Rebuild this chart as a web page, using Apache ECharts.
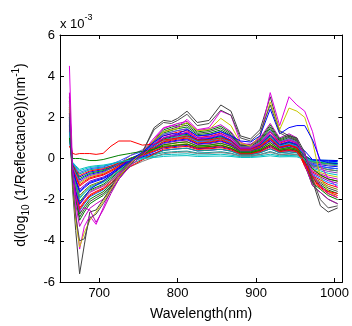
<!DOCTYPE html>
<html>
<head>
<meta charset="utf-8">
<script src="https://cdn.jsdelivr.net/npm/echarts@6/dist/echarts.min.js"></script>
<style>
  html, body { margin: 0; padding: 0; background: #fff; }
  #chart { width: 352px; height: 326px; }
</style>
</head>
<body>
<div id="chart"></div>
<script>
// wavelengths (nm) sampled along the spectra
const wavelengths = [662, 666, 670, 675, 681, 688, 696, 705, 715, 725, 740, 755, 770, 782, 792, 800, 812,
  825, 840, 855, 868, 880, 893, 905, 918, 930, 942, 952, 962, 972, 982, 992, 1004]

// first derivative spectra, units of 1e-3 nm^-1
const spectra = [
  [1.2, -0.2, -0.4, -0.6, -0.52, -0.44, -0.4, -0.36, -0.29, -0.19, -0.07, 0.02, 0.11, 0.18, 0.2, 0.21, 0.23, 0.17, 0.18, 0.21, 0.16, 0.09, 0.09, 0.13, 0.21, 0.13, 0.15, 0.13, 0.04, -0.06, -0.08, -0.09, -0.1],
  [0.9, -0.25, -0.5, -0.75, -0.65, -0.55, -0.5, -0.45, -0.36, -0.24, -0.07, 0.05, 0.18, 0.29, 0.32, 0.34, 0.36, 0.27, 0.29, 0.33, 0.26, 0.14, 0.14, 0.2, 0.34, 0.2, 0.24, 0.2, 0.0, -0.18, -0.23, -0.27, -0.3],
  [1.8, -0.3, -0.6, -0.9, -0.78, -0.66, -0.6, -0.54, -0.42, -0.27, -0.06, 0.08, 0.25, 0.4, 0.44, 0.47, 0.5, 0.37, 0.4, 0.45, 0.36, 0.19, 0.19, 0.28, 0.47, 0.28, 0.33, 0.28, -0.04, -0.3, -0.38, -0.45, -0.5],
  [2.0, -0.35, -0.7, -1.05, -0.91, -0.77, -0.7, -0.63, -0.49, -0.32, -0.05, 0.12, 0.33, 0.52, 0.56, 0.6, 0.63, 0.48, 0.5, 0.57, 0.46, 0.25, 0.25, 0.35, 0.6, 0.35, 0.42, 0.35, 0.15, -0.09, -0.11, -0.14, -0.15],
  [1.5, -0.4, -0.8, -1.2, -1.04, -0.88, -0.8, -0.72, -0.56, -0.36, -0.06, 0.14, 0.38, 0.58, 0.64, 0.68, 0.72, 0.54, 0.58, 0.66, 0.52, 0.28, 0.28, 0.4, 0.68, 0.4, 0.48, 0.4, -0.12, -0.54, -0.68, -0.81, -0.9],
  [2.2, -0.45, -0.9, -1.35, -1.17, -0.99, -0.9, -0.81, -0.63, -0.41, -0.07, 0.16, 0.43, 0.66, 0.72, 0.77, 0.81, 0.61, 0.65, 0.74, 0.59, 0.32, 0.32, 0.45, 0.77, 0.45, 0.54, 0.45, 0.03, -0.36, -0.45, -0.54, -0.6],
  [1.3, -0.5, -1.0, -1.5, -1.3, -1.1, -1.0, -0.9, -0.7, -0.45, -0.08, 0.17, 0.47, 0.73, 0.8, 0.85, 0.9, 0.68, 0.72, 0.82, 0.65, 0.35, 0.35, 0.5, 0.85, 0.5, 0.6, 0.5, -0.18, -0.72, -0.9, -1.08, -1.2],
  [2.4, -0.55, -1.1, -1.65, -1.43, -1.21, -1.1, -0.99, -0.78, -0.5, -0.1, 0.17, 0.49, 0.77, 0.84, 0.89, 0.95, 0.71, 0.76, 0.86, 0.68, 0.37, 0.37, 0.53, 0.89, 0.53, 0.63, 0.53, 0.16, -0.24, -0.3, -0.36, -0.4],
  [1.7, -0.6, -1.2, -1.8, -1.56, -1.32, -1.2, -1.08, -0.84, -0.54, -0.11, 0.18, 0.53, 0.84, 0.92, 0.98, 1.04, 0.78, 0.83, 0.94, 0.75, 0.4, 0.4, 0.58, 0.98, 0.58, 0.69, 0.58, -0.26, -0.9, -1.13, -1.35, -1.5],
  [2.6, -0.65, -1.3, -1.95, -1.69, -1.43, -1.3, -1.17, -0.92, -0.59, -0.12, 0.21, 0.59, 0.91, 1.0, 1.06, 1.13, 0.85, 0.9, 1.03, 0.81, 0.44, 0.44, 0.63, 1.06, 0.63, 0.75, 0.63, 0.06, -0.48, -0.6, -0.72, -0.8],
  [1.9, -0.7, -1.4, -2.1, -1.82, -1.54, -1.4, -1.26, -0.98, -0.64, -0.13, 0.21, 0.61, 0.95, 1.04, 1.11, 1.17, 0.88, 0.94, 1.07, 0.85, 0.46, 0.46, 0.65, 1.11, 0.65, 0.78, 0.65, -0.29, -1.02, -1.28, -1.53, -1.7],
  [2.1, -0.75, -1.5, -2.25, -1.95, -1.65, -1.5, -1.35, -1.06, -0.69, -0.15, 0.22, 0.65, 1.02, 1.12, 1.19, 1.26, 0.95, 1.01, 1.15, 0.91, 0.49, 0.49, 0.7, 1.19, 0.7, 0.84, 0.7, 0.02, -0.6, -0.75, -0.9, -1.0],
  [3.0, -0.8, -1.6, -2.4, -2.08, -1.76, -1.6, -1.44, -1.12, -0.73, -0.15, 0.24, 0.7, 1.1, 1.2, 1.28, 1.35, 1.02, 1.08, 1.23, 0.98, 0.53, 0.53, 0.75, 1.28, 0.75, 0.9, 0.75, -0.31, -1.14, -1.43, -1.71, -1.9],
  [1.6, -0.85, -1.7, -2.55, -2.21, -1.87, -1.7, -1.53, -1.2, -0.78, -0.16, 0.25, 0.74, 1.17, 1.28, 1.36, 1.44, 1.09, 1.15, 1.31, 1.04, 0.56, 0.56, 0.8, 1.36, 0.8, 0.96, 0.8, -0.04, -0.78, -0.98, -1.17, -1.3],
  [2.3, -0.9, -1.8, -2.7, -2.34, -1.98, -1.8, -1.62, -1.26, -0.82, -0.16, 0.28, 0.8, 1.24, 1.36, 1.45, 1.53, 1.16, 1.22, 1.39, 1.11, 0.6, 0.6, 0.85, 1.45, 0.85, 1.02, 0.85, -0.29, -1.2, -1.5, -1.8, -2.0],
  [2.8, -0.95, -1.9, -2.85, -2.47, -2.09, -1.9, -1.71, -1.34, -0.87, -0.18, 0.29, 0.84, 1.31, 1.44, 1.53, 1.62, 1.22, 1.3, 1.48, 1.17, 0.63, 0.63, 0.9, 1.53, 0.9, 1.08, 0.9, -0.1, -0.96, -1.2, -1.44, -1.6],
  [2.0, -1.0, -2.0, -3.0, -2.6, -2.2, -2.0, -1.8, -1.4, -0.91, -0.18, 0.31, 0.89, 1.39, 1.52, 1.62, 1.71, 1.29, 1.37, 1.56, 1.24, 0.67, 0.67, 0.95, 1.62, 0.95, 1.14, 0.95, -0.31, -1.32, -1.65, -1.98, -2.2],
  [1.4, -0.28, -0.55, -0.83, -0.72, -0.61, -0.55, -0.5, -0.37, -0.22, 0.01, 0.16, 0.37, 0.55, 0.6, 0.64, 0.68, 0.51, 0.54, 0.62, 0.49, 0.26, 0.26, 0.38, 0.64, 0.38, 0.45, 0.38, -0.34, -0.84, -1.05, -1.26, -1.4],
  [2.5, -0.43, -0.85, -1.28, -1.11, -0.94, -0.85, -0.77, -0.58, -0.36, 0.0, 0.24, 0.54, 0.81, 0.88, 0.94, 0.99, 0.75, 0.79, 0.9, 0.72, 0.39, 0.39, 0.55, 0.94, 0.55, 0.66, 0.55, -0.39, -1.08, -1.35, -1.62, -1.8],
  [1.1, -0.63, -1.25, -1.88, -1.63, -1.38, -1.25, -1.13, -0.91, -0.63, -0.27, -0.04, 0.2, 0.38, 0.44, 0.47, 0.5, 0.37, 0.4, 0.45, 0.36, 0.19, 0.19, 0.28, 0.47, 0.28, 0.33, 0.28, -0.08, -0.36, -0.45, -0.54, -0.6],
  [3.2, -1.1, -2.2, -3.3, -2.86, -2.42, -2.2, -1.98, -1.55, -1.01, -0.23, 0.3, 0.92, 1.46, 1.6, 1.7, 1.8, 1.36, 1.44, 1.64, 1.3, 0.7, 0.7, 1.0, 1.7, 1.0, 1.2, 1.0, -0.28, -1.32, -1.65, -1.98, -2.2],
  [2.7, -0.53, -1.05, -1.58, -1.37, -1.16, -1.05, -0.95, -0.72, -0.44, -0.01, 0.28, 0.66, 0.99, 1.08, 1.15, 1.22, 0.92, 0.97, 1.11, 0.88, 0.47, 0.47, 0.68, 1.15, 0.68, 0.81, 0.68, 0.37, -0.06, -0.08, -0.09, -0.1],
  [1.9, -0.33, -0.65, -0.98, -0.85, -0.72, -0.65, -0.59, -0.44, -0.27, 0.02, 0.2, 0.45, 0.67, 0.72, 0.77, 0.81, 0.61, 0.65, 0.74, 0.59, 0.32, 0.32, 0.45, 0.77, 0.45, 0.54, 0.45, 0.17, -0.15, -0.19, -0.23, -0.25],
  [1.0, -0.23, -0.45, -0.68, -0.59, -0.5, -0.45, -0.41, -0.28, -0.13, 0.15, 0.34, 0.62, 0.89, 0.96, 1.02, 1.08, 0.82, 0.86, 0.98, 0.78, 0.42, 0.42, 0.6, 1.02, 0.6, 0.72, 0.6, 0.16, -0.3, -0.38, -0.45, -0.5],
  [2.2, -0.73, -1.45, -2.18, -1.89, -1.6, -1.45, -1.31, -1.07, -0.76, -0.39, -0.14, 0.07, 0.23, 0.28, 0.3, 0.32, 0.24, 0.25, 0.29, 0.23, 0.12, 0.12, 0.18, 0.3, 0.18, 0.21, 0.18, -0.04, -0.21, -0.26, -0.32, -0.35],
  [1.6, -0.38, -0.75, -1.13, -0.98, -0.83, -0.75, -0.68, -0.48, -0.25, 0.15, 0.42, 0.82, 1.18, 1.28, 1.36, 1.44, 1.09, 1.15, 1.31, 1.04, 0.56, 0.56, 0.8, 1.36, 0.8, 0.96, 0.8, 0.2, -0.42, -0.53, -0.63, -0.7],
  [2.4, -0.83, -1.65, -2.48, -2.15, -1.82, -1.65, -1.49, -1.21, -0.84, -0.38, -0.07, 0.23, 0.46, 0.52, 0.55, 0.59, 0.44, 0.47, 0.53, 0.42, 0.23, 0.23, 0.33, 0.55, 0.33, 0.39, 0.33, -0.25, -0.66, -0.83, -0.99, -1.1],
  [1.3, -0.18, -0.35, -0.53, -0.46, -0.39, -0.35, -0.32, -0.25, -0.17, -0.08, -0.01, 0.05, 0.1, 0.12, 0.13, 0.14, 0.1, 0.11, 0.12, 0.1, 0.05, 0.05, 0.08, 0.13, 0.08, 0.09, 0.08, -0.04, -0.12, -0.15, -0.18, -0.2],
  // outlying spectra
  [2.5, -1.5, -3.5, -5.6, -4.2, -2.6, -2.5, -2.0, -1.4, -0.9, -0.3, 0.3, 1.5, 1.85, 1.8, 1.95, 2.3, 1.75, 1.85, 2.6, 2.3, 1.1, 0.95, 1.4, 3.0, 1.35, 1.1, 1.0, 0.3, -1.1, -2.3, -2.6, -2.4],
  [4.5, -0.5, -2.5, -4.4, -3.3, -2.8, -3.2, -2.4, -1.5, -0.8, -0.2, 0.3, 1.0, 1.5, 1.6, 1.55, 1.9, 1.4, 1.5, 2.3, 2.1, 0.8, 0.6, 1.0, 3.2, 1.6, 3.0, 2.6, 2.3, 1.3, -0.3, -1.0, -1.4],
  [2.8, -1.2, -3.0, -4.3, -3.6, -3.0, -2.6, -2.1, -1.5, -0.9, -0.25, 0.3, 0.9, 1.3, 1.4, 1.45, 1.75, 1.35, 1.4, 1.95, 1.6, 0.75, 0.6, 1.1, 2.75, 1.4, 2.45, 2.3, 2.0, 0.8, -0.9, -1.6, -1.9],
  [0.6, 0.25, 0.2, 0.24, 0.24, 0.24, 0.2, 0.25, 0.6, 0.85, 0.85, 0.65, 0.7, 0.9, 0.95, 1.0, 1.1, 0.9, 0.9, 1.0, 0.85, 0.45, 0.45, 0.6, 1.0, 0.55, 0.65, 0.5, -0.2, -0.9, -1.4, -1.6, -1.7],
  [1.0, 0.0, 0.0, 0.0, -0.05, -0.1, -0.1, -0.05, 0.05, 0.15, 0.25, 0.35, 0.45, 0.6, 0.62, 0.65, 0.7, 0.55, 0.58, 0.65, 0.5, 0.28, 0.28, 0.4, 0.68, 0.4, 0.48, 0.4, 0.0, -0.5, -0.8, -1.0, -1.1],
  [2.0, -0.8, -1.6, -2.2, -1.9, -1.5, -1.3, -1.1, -0.8, -0.5, -0.1, 0.3, 0.8, 1.1, 1.2, 1.2, 1.4, 1.1, 1.15, 1.3, 1.1, 0.85, 0.8, 1.1, 2.4, 1.2, 1.5, 1.6, 1.6, 0.9, -0.1, -0.2, -0.25],
  [2.2, -1.2, -2.8, -4.0, -3.9, -2.9, -2.7, -2.2, -1.6, -1.0, -0.3, 0.3, 1.4, 1.75, 1.7, 1.85, 2.15, 1.6, 1.7, 2.35, 2.1, 1.0, 0.85, 1.25, 2.6, 1.25, 1.0, 0.9, 0.2, -1.0, -2.0, -2.4, -2.3],
  [3.0, -0.6, -1.8, -2.6, -2.4, -2.5, -3.1, -2.5, -1.7, -1.0, -0.35, 0.15, 0.7, 1.0, 1.1, 1.1, 1.3, 1.0, 1.05, 1.2, 1.0, 0.5, 0.5, 0.7, 1.3, 0.8, 0.9, 0.75, 0.2, -0.8, -1.3, -1.7, -1.9]
]

const lineColors = [
  "#00c0c0", "#00a0a0", "#0000ff", "#0000ff", "#c0c000", "#ff0000", "#8000c0",
  "#0000ff", "#808000", "#00c0c0", "#008000", "#c000c0", "#ff0000", "#0080ff",
  "#008000", "#404040", "#008000", "#ff0000", "#ff0000", "#20a080", "#c000c0",
  "#0000ff", "#00a000", "#2060ff", "#808080", "#8040c0", "#ff0000", "#00c0c0",
  "#404040", "#e000e0", "#c8c800", "#ff0000", "#008000", "#0000ff", "#505050", "#c000c0"]

const xTicks = [700, 800, 900, 1000]

const chart = echarts.init(document.getElementById("chart"))

const series = spectra.map((vals, i) => ({
  type: "line",
  data: wavelengths.map((w, j) => [w, vals[j]]),
  showSymbol: false,
  symbol: "none",
  lineStyle: { width: 1, color: lineColors[i % lineColors.length] },
  silent: true
}))

const font = "Liberation Sans, Arial, sans-serif"
const black = { color: "#000", width: 1 }

const option = {
  animation: false,
  backgroundColor: "#fff",
  grid: { left: 60, right: 7, top: 35, bottom: 39 },
  xAxis: [{
    type: "value",
    min: 650,
    max: 1010,
    interval: 50,
    name: "Wavelength(nm)",
    nameLocation: "middle",
    nameGap: 25,
    nameTextStyle: { fontFamily: font, fontSize: 14, color: "#000" },
    axisLine: { onZero: false, lineStyle: black },
    axisTick: { inside: true, length: 4, lineStyle: black, customValues: xTicks },
    axisLabel: {
      fontFamily: font, fontSize: 13, color: "#000", margin: 5,
      customValues: xTicks,
      formatter: (v) => String(v)
    },
    splitLine: { show: false }
  }, {
    type: "value",
    position: "top",
    min: 650,
    max: 1010,
    interval: 50,
    axisLine: { show: true, onZero: false, lineStyle: black },
    axisTick: { show: true, inside: true, length: 4, lineStyle: black, customValues: xTicks },
    axisLabel: { show: false },
    splitLine: { show: false }
  }],
  yAxis: [{
    type: "value",
    min: -6,
    max: 6,
    interval: 2,
    axisLine: { onZero: false, lineStyle: black },
    axisTick: { inside: true, length: 4, lineStyle: black },
    axisLabel: { fontFamily: font, fontSize: 13, color: "#000", margin: 5 },
    splitLine: { show: false }
  }, {
    type: "value",
    position: "right",
    min: -6,
    max: 6,
    interval: 2,
    axisLine: { show: true, onZero: false, lineStyle: black },
    axisTick: { show: true, inside: true, length: 4, lineStyle: black },
    axisLabel: { show: false },
    splitLine: { show: false }
  }],
  graphic: [{
    type: "text",
    left: 60,
    top: 13,
    style: {
      text: "{t|x 10}{p|-3}",
      rich: {
        t: { fontFamily: font, fontSize: 13, fill: "#000", lineHeight: 18, verticalAlign: "bottom" },
        p: { fontFamily: font, fontSize: 9, fill: "#000", lineHeight: 18, verticalAlign: "top" }
      }
    }
  }, {
    type: "text",
    x: 21,
    y: 155,
    rotation: Math.PI / 2,
    style: {
      text: "{t|d(log}{s|10}{t| (1/Reflectance))(nm}{p|-1}{t|)}",
      align: "center",
      verticalAlign: "middle",
      rich: {
        t: { fontFamily: font, fontSize: 14, fill: "#000", lineHeight: 20, verticalAlign: "middle" },
        s: { fontFamily: font, fontSize: 10, fill: "#000", lineHeight: 20, verticalAlign: "bottom", padding: [6, 0, 0, 0] },
        p: { fontFamily: font, fontSize: 10, fill: "#000", lineHeight: 20, verticalAlign: "top", padding: [0, 0, 8, 0] }
      }
    }
  }],
  series: series
}

chart.setOption(option)
</script>
</body>
</html>
